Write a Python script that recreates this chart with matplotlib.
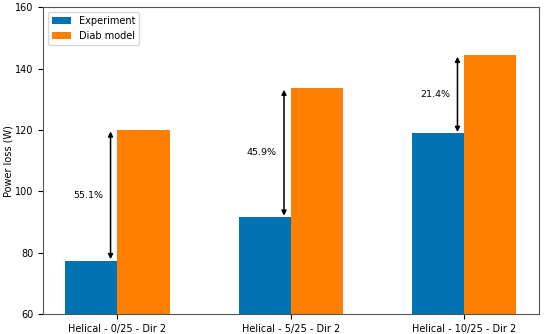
import matplotlib
matplotlib.use("Agg")
import matplotlib.pyplot as plt
import numpy as np

categories = ["Helical - 0/25 - Dir 2", "Helical - 5/25 - Dir 2", "Helical - 10/25 - Dir 2"]
experiment = [77.4, 91.6, 118.9]
diab_model = [120.0, 133.6, 144.35]
pct_labels = ["55.1%", "45.9%", "21.4%"]

fig = plt.figure(figsize=(5.5, 3.34), dpi=100)
ax = fig.add_axes([0.078, 0.06, 0.902, 0.918])
x = np.arange(len(categories))
w = 0.3
ax.bar(x - w / 2, experiment, w, color="#0173b2", label="Experiment")
ax.bar(x + w / 2, diab_model, w, color="#ff7f00", label="Diab model")

for i in range(len(categories)):
    ax.annotate("", xy=(x[i] - 0.04, diab_model[i]), xytext=(x[i] - 0.04, experiment[i]),
                arrowprops=dict(arrowstyle="<|-|>", color="black", lw=1.1,
                                mutation_scale=7, shrinkA=1, shrinkB=1))
    ax.text(x[i] - 0.17, (experiment[i] + diab_model[i]) / 2, pct_labels[i],
            ha="center", va="center", fontsize=6.8)

ax.set_ylim(60, 160)
ax.set_yticks([60, 80, 100, 120, 140, 160])
ax.set_xticks(x)
ax.set_xticklabels(categories)
ax.tick_params(labelsize=7)
ax.set_ylabel("Power loss (W)", fontsize=7, labelpad=1)
ax.legend(loc="upper left", fontsize=7)
for s in ax.spines.values():
    s.set_color("#555555")
fig.savefig("out.png", dpi=100)
